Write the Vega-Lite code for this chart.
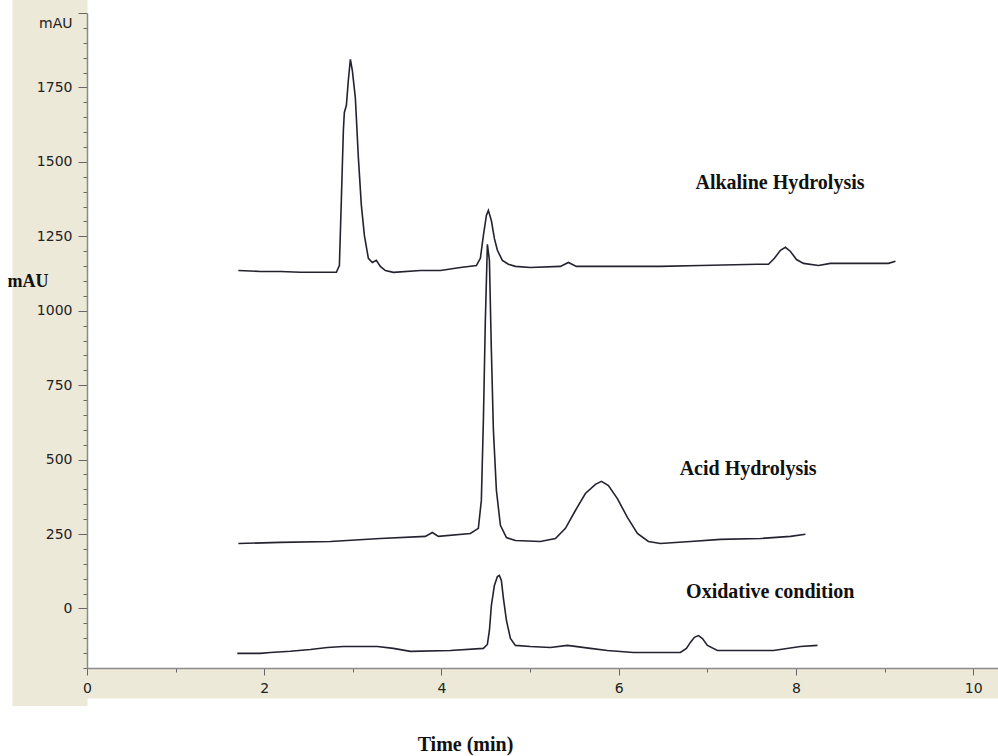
{
  "$schema": "https://vega.github.io/schema/vega-lite/v6.json",
  "width": 911,
  "height": 655,
  "autosize": {"type": "none"},
  "padding": {"left": 87, "top": 13, "right": 0, "bottom": 88},
  "background": "white",
  "config": {"view": {"fill": "white", "stroke": null}},
  "datasets": {
    "traces": [
      {"series": "Alkaline", "t": 1.708, "v": 1135},
      {"series": "Alkaline", "t": 1.956, "v": 1132},
      {"series": "Alkaline", "t": 2.182, "v": 1132},
      {"series": "Alkaline", "t": 2.407, "v": 1129},
      {"series": "Alkaline", "t": 2.633, "v": 1129},
      {"series": "Alkaline", "t": 2.814, "v": 1129},
      {"series": "Alkaline", "t": 2.848, "v": 1152},
      {"series": "Alkaline", "t": 2.870, "v": 1371},
      {"series": "Alkaline", "t": 2.893, "v": 1606},
      {"series": "Alkaline", "t": 2.904, "v": 1666},
      {"series": "Alkaline", "t": 2.927, "v": 1690},
      {"series": "Alkaline", "t": 2.949, "v": 1774},
      {"series": "Alkaline", "t": 2.972, "v": 1844},
      {"series": "Alkaline", "t": 2.994, "v": 1807},
      {"series": "Alkaline", "t": 3.028, "v": 1716},
      {"series": "Alkaline", "t": 3.062, "v": 1515},
      {"series": "Alkaline", "t": 3.096, "v": 1354},
      {"series": "Alkaline", "t": 3.130, "v": 1253},
      {"series": "Alkaline", "t": 3.175, "v": 1176},
      {"series": "Alkaline", "t": 3.220, "v": 1162},
      {"series": "Alkaline", "t": 3.265, "v": 1169},
      {"series": "Alkaline", "t": 3.310, "v": 1149},
      {"series": "Alkaline", "t": 3.367, "v": 1135},
      {"series": "Alkaline", "t": 3.457, "v": 1129},
      {"series": "Alkaline", "t": 3.762, "v": 1135},
      {"series": "Alkaline", "t": 3.988, "v": 1135},
      {"series": "Alkaline", "t": 4.213, "v": 1145},
      {"series": "Alkaline", "t": 4.394, "v": 1152},
      {"series": "Alkaline", "t": 4.439, "v": 1176},
      {"series": "Alkaline", "t": 4.473, "v": 1253},
      {"series": "Alkaline", "t": 4.507, "v": 1320},
      {"series": "Alkaline", "t": 4.529, "v": 1337},
      {"series": "Alkaline", "t": 4.563, "v": 1303},
      {"series": "Alkaline", "t": 4.597, "v": 1243},
      {"series": "Alkaline", "t": 4.631, "v": 1203},
      {"series": "Alkaline", "t": 4.687, "v": 1169},
      {"series": "Alkaline", "t": 4.755, "v": 1156},
      {"series": "Alkaline", "t": 4.834, "v": 1149},
      {"series": "Alkaline", "t": 5.003, "v": 1145},
      {"series": "Alkaline", "t": 5.342, "v": 1149},
      {"series": "Alkaline", "t": 5.432, "v": 1162},
      {"series": "Alkaline", "t": 5.522, "v": 1149},
      {"series": "Alkaline", "t": 5.793, "v": 1149},
      {"series": "Alkaline", "t": 6.471, "v": 1149},
      {"series": "Alkaline", "t": 6.922, "v": 1152},
      {"series": "Alkaline", "t": 7.565, "v": 1156},
      {"series": "Alkaline", "t": 7.690, "v": 1156},
      {"series": "Alkaline", "t": 7.757, "v": 1176},
      {"series": "Alkaline", "t": 7.825, "v": 1203},
      {"series": "Alkaline", "t": 7.881, "v": 1213},
      {"series": "Alkaline", "t": 7.938, "v": 1199},
      {"series": "Alkaline", "t": 8.006, "v": 1172},
      {"series": "Alkaline", "t": 8.085, "v": 1159},
      {"series": "Alkaline", "t": 8.254, "v": 1152},
      {"series": "Alkaline", "t": 8.389, "v": 1159},
      {"series": "Alkaline", "t": 9.044, "v": 1159},
      {"series": "Alkaline", "t": 9.123, "v": 1166},
      {"series": "Acid", "t": 1.708, "v": 218},
      {"series": "Acid", "t": 2.182, "v": 222},
      {"series": "Acid", "t": 2.746, "v": 225},
      {"series": "Acid", "t": 3.310, "v": 235},
      {"series": "Acid", "t": 3.818, "v": 242},
      {"series": "Acid", "t": 3.897, "v": 255},
      {"series": "Acid", "t": 3.965, "v": 242},
      {"series": "Acid", "t": 4.326, "v": 252},
      {"series": "Acid", "t": 4.416, "v": 269},
      {"series": "Acid", "t": 4.450, "v": 363},
      {"series": "Acid", "t": 4.473, "v": 632},
      {"series": "Acid", "t": 4.495, "v": 967},
      {"series": "Acid", "t": 4.518, "v": 1223},
      {"series": "Acid", "t": 4.541, "v": 1169},
      {"series": "Acid", "t": 4.563, "v": 867},
      {"series": "Acid", "t": 4.586, "v": 598},
      {"series": "Acid", "t": 4.620, "v": 396},
      {"series": "Acid", "t": 4.665, "v": 279},
      {"series": "Acid", "t": 4.733, "v": 238},
      {"series": "Acid", "t": 4.834, "v": 228},
      {"series": "Acid", "t": 5.116, "v": 225},
      {"series": "Acid", "t": 5.286, "v": 235},
      {"series": "Acid", "t": 5.399, "v": 269},
      {"series": "Acid", "t": 5.511, "v": 329},
      {"series": "Acid", "t": 5.624, "v": 386},
      {"series": "Acid", "t": 5.737, "v": 417},
      {"series": "Acid", "t": 5.805, "v": 427},
      {"series": "Acid", "t": 5.884, "v": 413},
      {"series": "Acid", "t": 5.985, "v": 369},
      {"series": "Acid", "t": 6.098, "v": 306},
      {"series": "Acid", "t": 6.211, "v": 252},
      {"series": "Acid", "t": 6.335, "v": 225},
      {"series": "Acid", "t": 6.471, "v": 218},
      {"series": "Acid", "t": 6.809, "v": 225},
      {"series": "Acid", "t": 7.148, "v": 232},
      {"series": "Acid", "t": 7.599, "v": 235},
      {"series": "Acid", "t": 7.938, "v": 242},
      {"series": "Acid", "t": 8.107, "v": 249},
      {"series": "Oxidative", "t": 1.696, "v": -151},
      {"series": "Oxidative", "t": 1.956, "v": -151},
      {"series": "Oxidative", "t": 2.069, "v": -148},
      {"series": "Oxidative", "t": 2.295, "v": -144},
      {"series": "Oxidative", "t": 2.520, "v": -138},
      {"series": "Oxidative", "t": 2.712, "v": -131},
      {"series": "Oxidative", "t": 2.893, "v": -128},
      {"series": "Oxidative", "t": 3.277, "v": -128},
      {"series": "Oxidative", "t": 3.457, "v": -134},
      {"series": "Oxidative", "t": 3.649, "v": -144},
      {"series": "Oxidative", "t": 4.100, "v": -141},
      {"series": "Oxidative", "t": 4.473, "v": -134},
      {"series": "Oxidative", "t": 4.518, "v": -121},
      {"series": "Oxidative", "t": 4.541, "v": -74},
      {"series": "Oxidative", "t": 4.563, "v": 10},
      {"series": "Oxidative", "t": 4.597, "v": 77},
      {"series": "Oxidative", "t": 4.631, "v": 107},
      {"series": "Oxidative", "t": 4.653, "v": 111},
      {"series": "Oxidative", "t": 4.676, "v": 94},
      {"series": "Oxidative", "t": 4.699, "v": 34},
      {"series": "Oxidative", "t": 4.733, "v": -40},
      {"series": "Oxidative", "t": 4.778, "v": -101},
      {"series": "Oxidative", "t": 4.834, "v": -124},
      {"series": "Oxidative", "t": 5.003, "v": -128},
      {"series": "Oxidative", "t": 5.229, "v": -131},
      {"series": "Oxidative", "t": 5.421, "v": -124},
      {"series": "Oxidative", "t": 5.681, "v": -134},
      {"series": "Oxidative", "t": 5.872, "v": -141},
      {"series": "Oxidative", "t": 6.166, "v": -148},
      {"series": "Oxidative", "t": 6.696, "v": -148},
      {"series": "Oxidative", "t": 6.764, "v": -134},
      {"series": "Oxidative", "t": 6.809, "v": -114},
      {"series": "Oxidative", "t": 6.854, "v": -97},
      {"series": "Oxidative", "t": 6.900, "v": -91},
      {"series": "Oxidative", "t": 6.945, "v": -101},
      {"series": "Oxidative", "t": 7.001, "v": -124},
      {"series": "Oxidative", "t": 7.114, "v": -141},
      {"series": "Oxidative", "t": 7.746, "v": -141},
      {"series": "Oxidative", "t": 8.051, "v": -128},
      {"series": "Oxidative", "t": 8.243, "v": -124}
    ],
    "labels": [
      {"label": "Alkaline Hydrolysis", "t": 7.82, "v": 1428},
      {"label": "Acid Hydrolysis", "t": 7.46, "v": 470},
      {"label": "Oxidative condition", "t": 7.71, "v": 54}
    ]
  },
  "layer": [
    {
      "data": {"name": "labels"},
      "mark": {"type": "text", "font": "Liberation Serif", "fontWeight": "bold", "fontSize": 20, "color": "#111111"},
      "encoding": {
        "x": {
          "field": "t", "type": "quantitative",
          "scale": {"domain": [0, 10.28], "nice": false, "zero": false},
          "axis": {"orient": "bottom", "zindex": 0, "grid": false, "ticks": true, "tickColor": "#ece9d8", "tickSize": 2,
                   "labels": false, "title": null,
                   "domain": true, "domainColor": "#ece9d8", "domainOpacity": 1, "domainWidth": 30, "offset": 15, "domainCap": "square"}
        },
        "y": {
          "field": "v", "type": "quantitative",
          "scale": {"domain": [-200, 2000], "nice": false, "zero": false},
          "axis": {"orient": "left", "zindex": 0, "grid": false, "ticks": false, "labels": false, "title": null,
                   "domain": true, "domainColor": "#ece9d8", "domainOpacity": 1, "domainWidth": 75, "offset": 37.5, "domainCap": "square"}
        },
        "text": {"field": "label"}
      }
    },
    {
      "data": {"name": "traces"},
      "mark": {"type": "line", "stroke": "#23232f", "strokeWidth": 1.6},
      "encoding": {
        "x": {
          "field": "t", "type": "quantitative",
          "scale": {"domain": [0, 10.28], "nice": false, "zero": false},
          "axis": {
            "orient": "bottom", "zindex": 1, "grid": false,
            "values": [0, 0.5, 1, 1.5, 2, 2.5, 3, 3.5, 4, 4.5, 5, 5.5, 6, 6.5, 7, 7.5, 8, 8.5, 9, 9.5, 10],
            "format": "d",
            "labelExpr": "datum.value % 2 === 0 ? datum.label : ''",
            "labelFont": "DejaVu Sans", "labelFontSize": 14, "labelColor": "#222222",
            "labelPadding": 6, "labelOverlap": false, "labelFlush": false,
            "tickColor": "#666666",
            "tickSize": {"condition": {"test": "datum.value % 2 === 0", "value": 7}, "value": 4},
            "domainColor": "#8a8a8a", "domainWidth": 1.5,
            "title": "Time (min)", "titleFont": "Liberation Serif", "titleFontWeight": "bold",
            "titleFontSize": 20, "titleColor": "#111111",
            "titleX": 378, "titleY": 76, "titleAlign": "center", "titleBaseline": "middle"
          }
        },
        "y": {
          "field": "v", "type": "quantitative",
          "scale": {"domain": [-200, 2000], "nice": false, "zero": false},
          "axis": {
            "orient": "left", "zindex": 1, "grid": false,
            "values": [-200, -150, -100, -50, 0, 50, 100, 150, 200, 250, 300, 350, 400, 450, 500, 550, 600, 650, 700, 750, 800, 850, 900, 950, 1000, 1050, 1100, 1150, 1200, 1250, 1300, 1350, 1400, 1450, 1500, 1550, 1600, 1650, 1700, 1750, 1800, 1850, 1900, 1950, 2000],
            "format": "d",
            "labelExpr": "datum.value === 2000 ? 'mAU' : (datum.value >= 0 && datum.value % 250 === 0 ? datum.label : '')",
            "labelFont": "DejaVu Sans", "labelFontSize": 14, "labelColor": "#222222",
            "labelPadding": 6, "labelOverlap": false, "labelFlush": false,
            "labelOffset": {"condition": {"test": "datum.value === 2000", "value": 10}, "value": 0},
            "tickColor": "#666666",
            "tickSize": {"condition": {"test": "datum.value % 250 === 0", "value": 9}, "value": 4},
            "domainColor": "#8a8a8a", "domainWidth": 1.5,
            "title": "mAU", "titleFont": "Liberation Serif", "titleFontWeight": "bold",
            "titleFontSize": 18, "titleColor": "#111111", "titleAngle": 0,
            "titleX": -80, "titleY": 268, "titleAlign": "left", "titleBaseline": "middle"
          }
        },
        "detail": {"field": "series"}
      }
    }
  ],
  "resolve": {"axis": {"x": "independent", "y": "independent"}}
}
